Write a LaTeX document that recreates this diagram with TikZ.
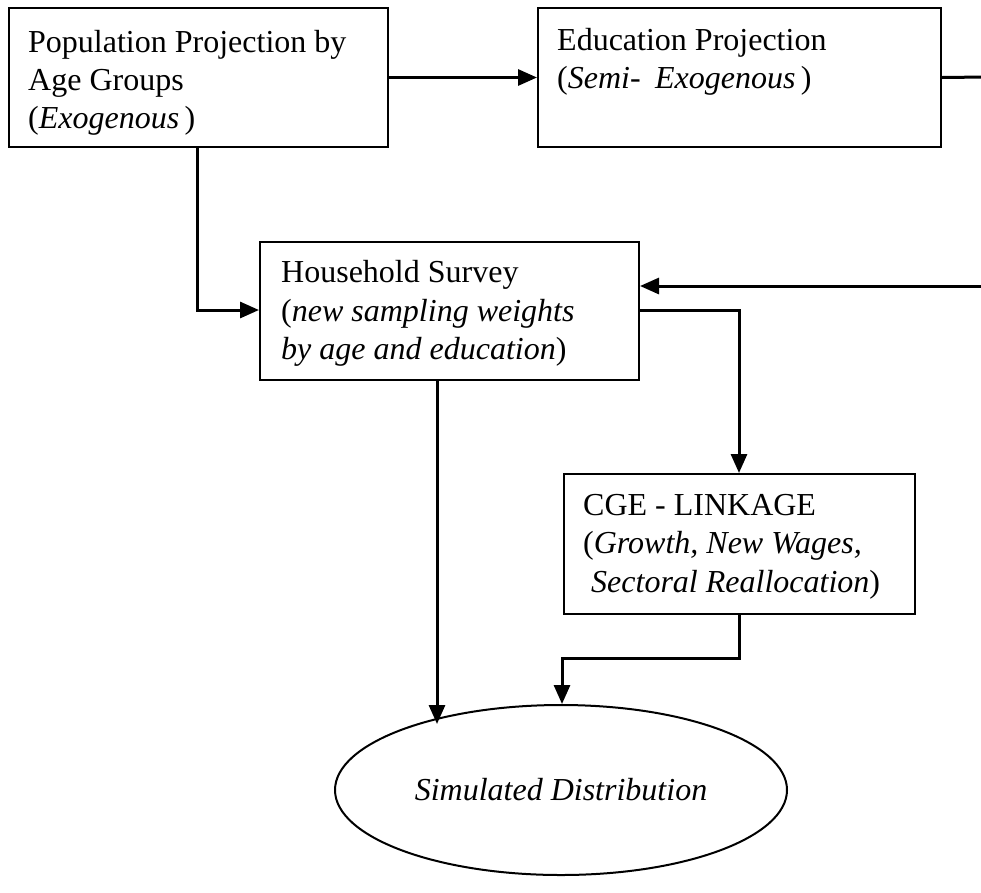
\documentclass[tikz,border=0pt]{standalone}
\usepackage{fontspec}
\setmainfont{Liberation Serif}
\usetikzlibrary{arrows.meta,shapes.geometric}
\begin{document}
\begin{tikzpicture}[x=1pt,y=-1pt,
  box/.style={draw,line width=2pt,rectangle,inner sep=0pt,anchor=north west},
  txt/.style={anchor=base west,inner sep=0pt,font=\fontsize{32}{38}\selectfont},
  conn/.style={line width=3pt},
  arr/.style={line width=3pt,-{Triangle[length=19pt,width=16pt]}},
  ]
\useasboundingbox (0,0) rectangle (981,892);
% boxes
\node[box,minimum width=379pt,minimum height=139pt] (pop) at (8,7) {};
\node[box,minimum width=403pt,minimum height=139pt] (edu) at (537,7) {};
\node[box,minimum width=379pt,minimum height=138pt] (hh) at (259,241) {};
\node[box,minimum width=351pt,minimum height=140pt] (cge) at (563,473) {};
\node[draw,ellipse,line width=2pt,inner sep=0pt,minimum width=452pt,minimum height=170pt,
  font=\fontsize{32}{38}\selectfont] (sim) at (561,790) {\textit{Simulated Distribution}};
% texts
\node[txt] (pa) at (28,52) {Population Projection by};
\node[txt] (pb) at (28,90) {Age Groups};
\node[txt] (pc) at (28,128) {(\textit{Exogenous}\,)};
\node[txt] (ea) at (557,50) {Education Projection};
\node[txt] (eb) at (557,88) {(\textit{Semi-\hspace{0.45em}Exogenous}\,)};
\node[txt] (ha) at (281,282) {Household Survey};
\node[txt] (hb) at (281,321) {(\textit{new sampling weights}};
\node[txt] (hc) at (281,359) {\textit{by age and education})};
\node[txt] (ca) at (583,515) {CGE - LINKAGE};
\node[txt] (cb) at (583,553) {(\textit{Growth, New Wages,}};
\node[txt] (cc) at (583,592) {\hspace{0.25em}\textit{Sectoral Reallocation})};
% connectors
\coordinate (eout) at (986,77);
\coordinate (fin) at (986,286);
\coordinate (p1) at (197,310);
\coordinate (p2) at (739,310);
\coordinate (p3) at (739,658);
\coordinate (p4) at (562,658);
\coordinate (p5) at (437,724);
\draw[arr] (pop.east) -- (edu.west);
\draw[conn] (edu.east) -- (eout);
\draw[arr] (fin) -- (fin -| hh.east);
\draw[arr] (pop.south -| p1) -- (p1) -- (p1 -| hh.west);
\draw[arr] (hh.east |- p2) -- (p2) -- (cge.north -| p2);
\draw[arr] (hh.south -| p5) -- (p5);
\draw[arr] (cge.south -| p3) -- (p3) -- (p4) -- (p4 |- sim.north);
\end{tikzpicture}
\end{document}
